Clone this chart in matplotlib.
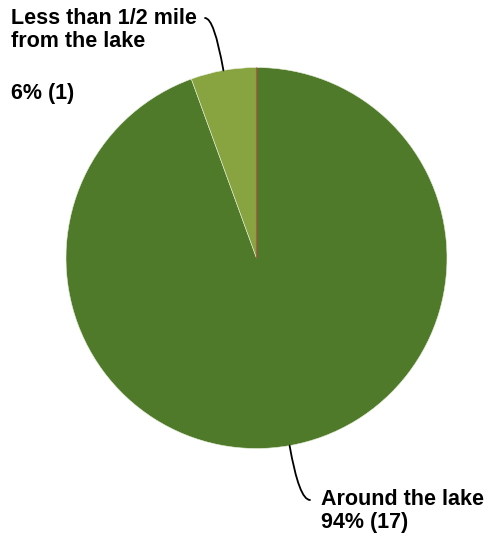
import matplotlib
matplotlib.use("Agg")
import matplotlib.pyplot as plt
import numpy as np

categories = ["Around the lake", "Less than 1/2 mile from the lake", "Other"]
counts = [17, 1, 0]
colors = ["#4f7a29", "#88a440", "#c0504d"]

W, H = 489, 542
fig = plt.figure(figsize=(W / 100, H / 100), dpi=100)
cx, cy, r = 256.5, 542 - 258, 190.5
ax = fig.add_axes([(cx - r) / W, (cy - r) / H, 2 * r / W, 2 * r / H])
wedges, _ = ax.pie(counts, colors=colors, startangle=90, counterclock=False,
                   radius=1, wedgeprops=dict(edgecolor="#e8eedc", linewidth=0.4))
wedges[2].set_edgecolor(colors[2])
wedges[2].set_linewidth(0.8)
ax.set_xlim(-1, 1)
ax.set_ylim(-1, 1)
ax.set_aspect("equal")
ax.axis("off")

plt.rcParams["font.family"] = ["Liberation Sans", "DejaVu Sans"]
total = sum(counts)
fs = 15.5

def mid_xy(w):
    a = np.deg2rad((w.theta1 + w.theta2) / 2)
    return np.cos(a), np.sin(a)

# Small slice label (top-left)
pct1 = round(100 * counts[1] / total)
fig.text(11 / W, 1 - 8 / H, "Less than 1/2 mile\nfrom the lake",
         ha="left", va="top", fontsize=fs, fontweight="bold", linespacing=1.12)
fig.text(11 / W, 1 - 83 / H, "%d%% (%d)" % (pct1, counts[1]),
         ha="left", va="top", fontsize=fs, fontweight="bold")
ax.annotate("", xy=mid_xy(wedges[1]), xycoords="data",
            xytext=(205 / W, 1 - 18 / H), textcoords="figure fraction",
            arrowprops=dict(arrowstyle="-", color="black", lw=1.3,
                            connectionstyle="angle3,angleA=0,angleB=100", shrinkA=0, shrinkB=0))

# Big slice label (bottom-right)
pct0 = round(100 * counts[0] / total)
fig.text(321 / W, 1 - 489 / H, "%s\n%d%% (%d)" % (categories[0], pct0, counts[0]),
         ha="left", va="top", fontsize=fs, fontweight="bold", linespacing=1.1)
ax.annotate("", xy=mid_xy(wedges[0]), xycoords="data",
            xytext=(310 / W, 1 - 500 / H), textcoords="figure fraction",
            arrowprops=dict(arrowstyle="-", color="black", lw=1.3,
                            connectionstyle="angle3,angleA=0,angleB=-80", shrinkA=0, shrinkB=0))

fig.savefig("out.png", dpi=100)
